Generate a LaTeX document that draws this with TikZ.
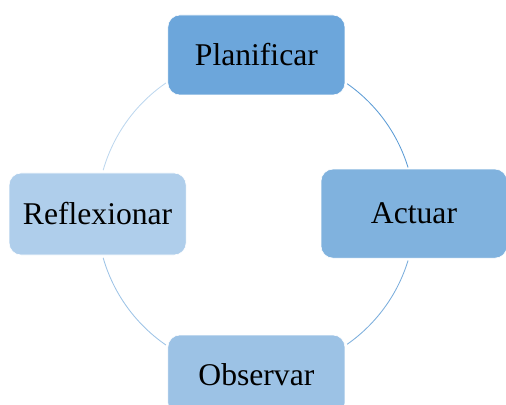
\documentclass[tikz,border=0pt]{standalone}
\usepackage{fontspec}
\setmainfont{Liberation Serif}
\definecolor{planc}{RGB}{108,166,219}
\definecolor{actc}{RGB}{128,178,222}
\definecolor{obsc}{RGB}{156,194,229}
\definecolor{refc}{RGB}{175,206,235}
\definecolor{arca}{RGB}{91,155,213}
\definecolor{arcb}{RGB}{122,173,220}
\definecolor{arcc}{RGB}{157,195,230}
\definecolor{arcd}{RGB}{189,215,238}
\begin{document}
\begin{tikzpicture}[box/.style={draw=white,rounded corners=0.3cm,minimum width=4.425cm,minimum height=2cm,font=\fontsize{22.5}{27}\selectfont}]
\useasboundingbox (0,0) rectangle (12.65,10.1);
\coordinate (c) at (6.4,4.75);
\draw[color=arca,line width=0.6pt] (c) ++(55:3.975) arc[start angle=55,end angle=17,radius=3.975];
\draw[color=arcb,line width=0.6pt] (c) ++(-17:3.975) arc[start angle=-17,end angle=-55,radius=3.975];
\draw[color=arcc,line width=0.6pt] (c) ++(-124.5:3.975) arc[start angle=-124.5,end angle=-164,radius=3.975];
\draw[color=arcd,line width=0.6pt] (c) ++(164:3.975) arc[start angle=164,end angle=124.5,radius=3.975];
\node[box,fill=planc] (plan) at (6.41,8.725) {Planificar};
\node[box,fill=actc,minimum width=4.65cm,minimum height=2.225cm] (act) at (10.35,4.76) {Actuar};
\node[box,fill=obsc] (obs) at (6.41,0.725) {Observar};
\node[box,fill=refc,minimum height=2.05cm] (ref) at (2.44,4.75) {Reflexionar};
\end{tikzpicture}
\end{document}
